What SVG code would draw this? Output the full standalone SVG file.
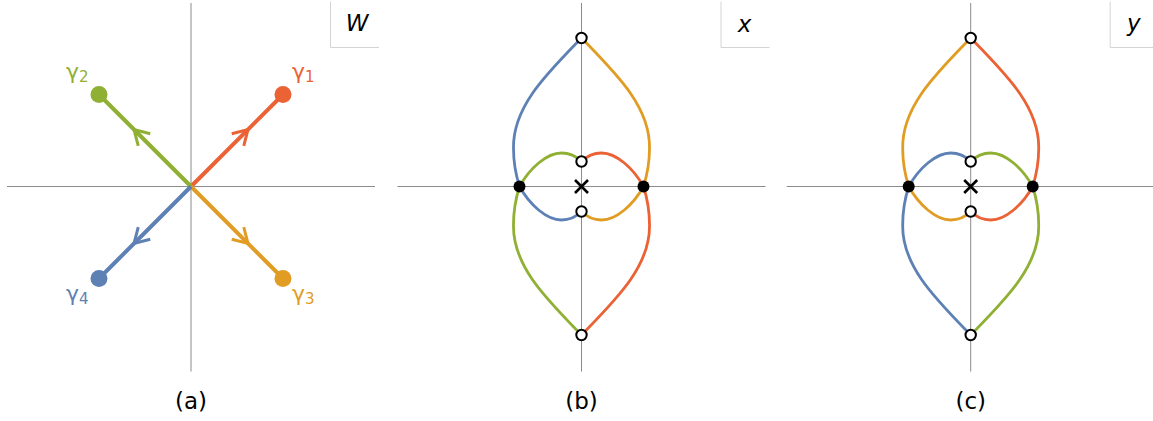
<svg xmlns="http://www.w3.org/2000/svg" xmlns:xlink="http://www.w3.org/1999/xlink" width="1153" height="421" viewBox="0 0 1153 421">
<style>
.axis{stroke:#8c8c8c;stroke-width:1;fill:none}
.box{stroke:#d4d4d4;stroke-width:1;fill:none}
.cv{fill:none;stroke-width:2.8;stroke-linecap:butt}
.ray{fill:none;stroke-width:4}
.chev{fill:none;stroke-width:3;stroke-linejoin:miter}
.blue{stroke:#5E81B5}.orange{stroke:#E19C24}.green{stroke:#8FB032}.red{stroke:#EB6235}
.fblue{fill:#5E81B5}.forange{fill:#E19C24}.fgreen{fill:#8FB032}.fred{fill:#EB6235}
.open{fill:#fff;stroke:#000;stroke-width:2}
.dot{fill:#000}
.cross{stroke:#000;stroke-width:2.6}
.cap{font-family:"DejaVu Sans",sans-serif;font-size:23px;fill:#000;text-anchor:middle}
.var{font-family:"DejaVu Sans",sans-serif;font-style:italic;font-size:23px;fill:#000;text-anchor:middle}
.gl{font-family:"DejaVu Sans",sans-serif;font-size:22px}
.sub{font-size:15px}
</style>
<defs>
<path id="chev" d="M-14.5,-8.5 L0,0 L-14.5,8.5"/>
<g id="frame">
<line class="axis" x1="-184" y1="0" x2="184" y2="0"/>
<line class="axis" x1="0" y1="-183.5" x2="0" y2="185"/>
<polyline class="box" points="139.5,-185 139.5,-139 188,-139"/>
</g>
</defs>

<g id="panel-a" transform="translate(191,186.5)">
<use xlink:href="#frame"/>
<g id="rays">
<line class="ray red" x1="0" y1="0" x2="92" y2="-92"/>
<line class="ray green" x1="0" y1="0" x2="-92" y2="-92"/>
<line class="ray orange" x1="0" y1="0" x2="92" y2="92"/>
<line class="ray blue" x1="0" y1="0" x2="-92" y2="92"/>
<use xlink:href="#chev" class="chev red" transform="translate(57,-57) rotate(-45)"/>
<use xlink:href="#chev" class="chev green" transform="translate(-57,-57) rotate(-135)"/>
<use xlink:href="#chev" class="chev orange" transform="translate(57,57) rotate(45)"/>
<use xlink:href="#chev" class="chev blue" transform="translate(-57,57) rotate(135)"/>
</g>
<g id="g1"><circle class="fred" cx="92" cy="-92" r="8.5"/><text class="gl fred" x="101" y="-108">γ<tspan class="sub" dy="3">1</tspan></text></g>
<g id="g2"><circle class="fgreen" cx="-92" cy="-92" r="8.5"/><text class="gl fgreen" x="-125" y="-108">γ<tspan class="sub" dy="3">2</tspan></text></g>
<g id="g3"><circle class="forange" cx="92" cy="92" r="8.5"/><text class="gl forange" x="101" y="114">γ<tspan class="sub" dy="3">3</tspan></text></g>
<g id="g4"><circle class="fblue" cx="-92" cy="92" r="8.5"/><text class="gl fblue" x="-125" y="114">γ<tspan class="sub" dy="3">4</tspan></text></g>
<text class="var" x="166" y="-156">W</text>
<text class="cap" x="0" y="222">(a)</text>
</g>

<g id="panel-b" transform="translate(581.5,186.5)">
<use xlink:href="#frame"/>
<g id="curves-b">
<path class="cv blue" d="M0,-148.5 C-34,-113.5 -69,-80 -68,-38 C-68,-21 -65,-9.5 -62,0"/>
<path class="cv blue" d="M-62,0 C-52,18 -35,33.5 -20,33.5 C-11,33.5 -4,29 0,25"/>
<path class="cv green" d="M-62,0 C-52,-18 -35,-33.5 -20,-33.5 C-11,-33.5 -4,-29 0,-25"/>
<path class="cv green" d="M-62,0 C-65,9.5 -68,21 -68,38 C-69,80 -34,113.5 0,148.5"/>
<path class="cv orange" d="M0,-148.5 C34,-113.5 69,-80 68,-38 C68,-21 65,-9.5 62,0"/>
<path class="cv orange" d="M62,0 C52,18 35,33.5 20,33.5 C11,33.5 4,29 0,25"/>
<path class="cv red" d="M62,0 C52,-18 35,-33.5 20,-33.5 C11,-33.5 4,-29 0,-25"/>
<path class="cv red" d="M62,0 C65,9.5 68,21 68,38 C69,80 34,113.5 0,148.5"/>
</g>
<g id="points-b">
<circle class="open" cx="0" cy="-148.5" r="5.2"/>
<circle class="open" cx="0" cy="148.5" r="5.2"/>
<circle class="open" cx="0" cy="-25" r="5.2"/>
<circle class="open" cx="0" cy="25" r="5.2"/>
<circle class="dot" cx="-62" cy="0" r="6"/>
<circle class="dot" cx="62" cy="0" r="6"/>
<path class="cross" d="M-6.5,-6.5 L6.5,6.5 M-6.5,6.5 L6.5,-6.5"/>
</g>
<text class="var" x="163" y="-155">x</text>
<text class="cap" x="0" y="222">(b)</text>
</g>

<g id="panel-c" transform="translate(970.7,186.5)">
<use xlink:href="#frame"/>
<g id="curves-c">
<path class="cv orange" d="M0,-148.5 C-34,-113.5 -69,-80 -68,-38 C-68,-21 -65,-9.5 -62,0"/>
<path class="cv orange" d="M-62,0 C-52,18 -35,33.5 -20,33.5 C-11,33.5 -4,29 0,25"/>
<path class="cv blue" d="M-62,0 C-52,-18 -35,-33.5 -20,-33.5 C-11,-33.5 -4,-29 0,-25"/>
<path class="cv blue" d="M-62,0 C-65,9.5 -68,21 -68,38 C-69,80 -34,113.5 0,148.5"/>
<path class="cv red" d="M0,-148.5 C34,-113.5 69,-80 68,-38 C68,-21 65,-9.5 62,0"/>
<path class="cv red" d="M62,0 C52,18 35,33.5 20,33.5 C11,33.5 4,29 0,25"/>
<path class="cv green" d="M62,0 C52,-18 35,-33.5 20,-33.5 C11,-33.5 4,-29 0,-25"/>
<path class="cv green" d="M62,0 C65,9.5 68,21 68,38 C69,80 34,113.5 0,148.5"/>
</g>
<g id="points-c">
<circle class="open" cx="0" cy="-148.5" r="5.2"/>
<circle class="open" cx="0" cy="148.5" r="5.2"/>
<circle class="open" cx="0" cy="-25" r="5.2"/>
<circle class="open" cx="0" cy="25" r="5.2"/>
<circle class="dot" cx="-62" cy="0" r="6"/>
<circle class="dot" cx="62" cy="0" r="6"/>
<path class="cross" d="M-6.5,-6.5 L6.5,6.5 M-6.5,6.5 L6.5,-6.5"/>
</g>
<text class="var" x="163" y="-156">y</text>
<text class="cap" x="0" y="222">(c)</text>
</g>
</svg>
